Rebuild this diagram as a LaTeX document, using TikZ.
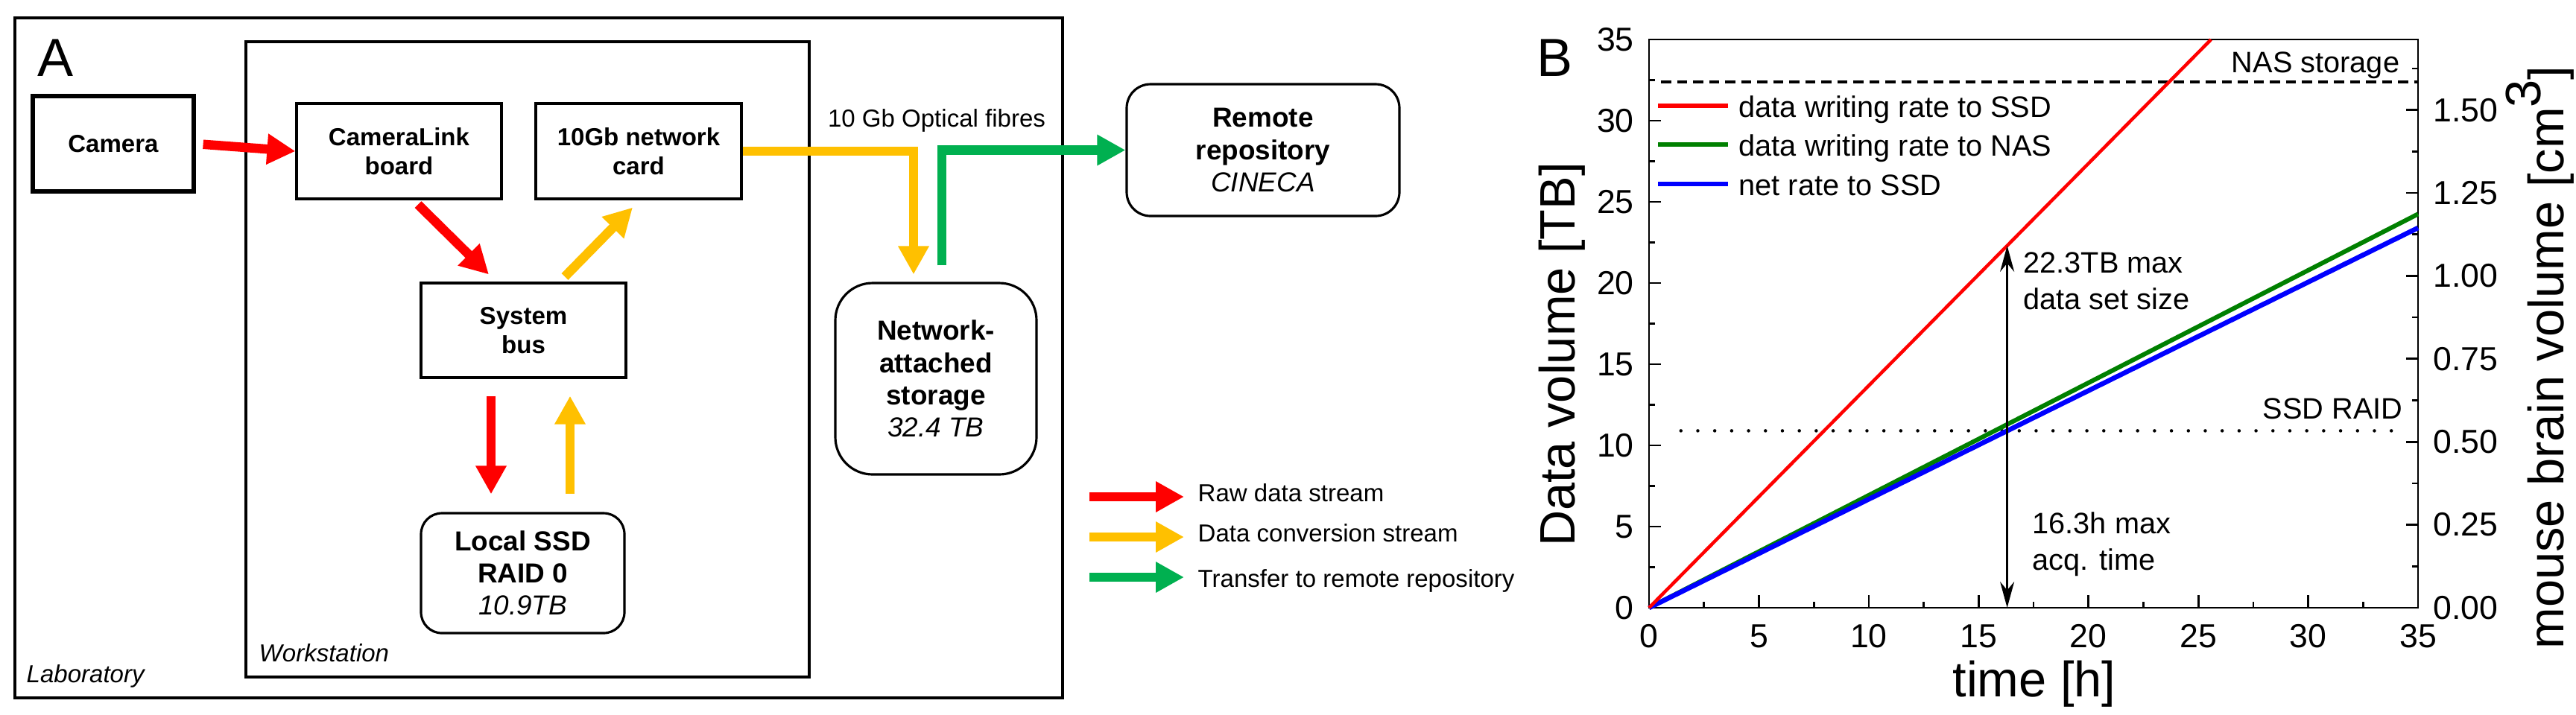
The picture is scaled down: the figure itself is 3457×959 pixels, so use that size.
\documentclass[tikz,border=0pt]{standalone}
\usepackage{fontspec}
\setmainfont{Liberation Sans}
\usetikzlibrary{arrows.meta,calc}
\definecolor{rawred}{RGB}{255,0,0}
\definecolor{convyellow}{RGB}{255,192,0}
\definecolor{xfergreen}{RGB}{0,176,80}
\definecolor{plotgreen}{RGB}{0,128,0}
\definecolor{plotblue}{RGB}{0,0,255}
\newcommand{\capnote}[1]{{\mdseries\itshape #1}}

\begin{document}
\begin{tikzpicture}[x=0.1mm, y=-0.1mm]
	\tikzstyle{hwbox} = [draw, line width=0.9pt, minimum width=27.5mm, minimum height=12.8mm, align=center, inner sep=0pt, font=\fontsize{9.4pt}{11.1pt}\selectfont\bfseries]
	\tikzstyle{storebox} = [draw, line width=0.9pt, align=center, inner sep=0pt, font=\fontsize{10.5pt}{12.3pt}\selectfont\bfseries]
	\tikzstyle{flow} = [line width=1.25mm, line join=miter, -{Triangle[length=3.8mm, width=3.9mm]}]
	\tikzstyle{plain} = [inner sep=0pt, font=\fontsize{9.4pt}{11pt}\selectfont]
	\tikzstyle{roomtag} = [inner sep=0pt, anchor=west, font=\fontsize{9.4pt}{11pt}\selectfont\itshape]
	\tikzstyle{panel} = [inner sep=0pt, font=\fontsize{20.5pt}{24pt}\selectfont]
	\tikzstyle{axtitle} = [inner sep=0pt, font=\fontsize{19pt}{22pt}\selectfont]
	\useasboundingbox (0,0) rectangle (3457,959);

	% A: acquisition chain
	\node[panel] (pa) at (74.5,77.5) {A};
	\draw[line width=0.9pt] (20,24) rectangle (1426,937);
	\draw[line width=0.9pt] (330,56) rectangle (1086,909);
	\node[roomtag] (labtag) at (35,908) {Laboratory};
	\node[roomtag] (wstag) at (347,877) {Workstation};

	\node[hwbox, line width=1.5pt, minimum width=21.6mm] (camera) at (152,193) {Camera};
	\node[hwbox] (board) at (535.5,203) {CameraLink\\board};
	\node[hwbox, minimum width=27.6mm] (card) at (857,203) {10Gb network\\card};
	\node[hwbox, minimum height=12.7mm] (bus) at (702.5,443.5) {System\\bus};
	\node[storebox, rounded corners=2.8mm, minimum width=27.3mm, minimum height=16.1mm] (ssd) at (701.5,769.5) {Local SSD\\RAID 0\\\capnote{10.9TB}};
	\node[storebox, rounded corners=5mm, minimum width=27mm, minimum height=25.7mm] (nas) at (1256,508.5) {Network-\\attached\\storage\\\capnote{32.4 TB}};
	\node[storebox, rounded corners=3.2mm, minimum width=36.6mm, minimum height=17.7mm] (remote) at (1695,201.5) {Remote\\repository\\\capnote{CINECA}};
	\node[plain] (fibre) at (1257,162) {10 Gb Optical fibres};

	\draw[flow, rawred, shorten <=1mm] (camera.east) -- (board.west);
	\draw[flow, rawred] ($(board.south)+(25.5,6)$) -- ($(bus.north)+(-46.5,-10)$);
	\draw[flow, convyellow] ($(bus.north)+(55.5,-7)$) -- ($(card.south)+(-8,10)$);
	\draw[flow, rawred] ($(bus.south)+(-43.5,23)$) -- ($(ssd.north)+(-42.5,-24)$);
	\draw[flow, convyellow] ($(ssd.north)+(63.5,-24)$) -- ($(bus.south)+(62.5,23)$);
	\draw[flow, convyellow] (card.east) -| ($(nas.north)+(-30,-10)$);
	\draw[flow, xfergreen] ($(nas.north)+(8,-22)$) |- (remote.west);

	\node[plain, anchor=west] (lraw) at (1607,662) {Raw data stream};
	\node[plain, anchor=west] (lconv) at (1607,716) {Data conversion stream};
	\node[plain, anchor=west] (lxfer) at (1607,780) {Transfer to remote repository};
	\coordinate (lraw0) at (1462,667);
	\coordinate (lconv0) at (1462,721);
	\coordinate (lxfer0) at (1462,775);
	\draw[flow, rawred, shorten >=1.8mm] (lraw0) -- (lraw0 -| lraw.west);
	\draw[flow, convyellow, shorten >=1.8mm] (lconv0) -- (lconv0 -| lconv.west);
	\draw[flow, xfergreen, shorten >=1.8mm] (lxfer0) -- (lxfer0 -| lxfer.west);

	% B: data volume against time
	\node[panel] (pb) at (2087,78) {B};
	\node[axtitle, anchor=base] (xtitle) at (2730,935) {time [h]};
	\node[axtitle, rotate=90, anchor=base] (ytitle) at (2113,476) {Data volume [TB]};
	\node[axtitle, rotate=90, anchor=base] (y2title) at (3440,480) {mouse brain volume [cm\raisebox{0.45em}{3}]};

	\begin{scope}[shift={(2213,816)}, x=2.9486mm, y=2.18mm]
		\tikzstyle{ticklab} = [inner sep=0pt, font=\fontsize{12.7pt}{14pt}\selectfont]
		\tikzstyle{plotnote} = [inner sep=0pt, align=left, font=\fontsize{11.3pt}{14pt}\selectfont]
		\tikzstyle{frame} = [line width=0.27mm]
		\draw[frame] (0,0) rectangle (35,35);
		\foreach \t in {0,5,...,35} {
			\draw[frame] (\t,0) -- ++(0,1.7mm);
			\node[ticklab] (xl\t) at ([yshift=-3.8mm]\t,0) {\t};
			\draw[frame] (0,\t) -- ++(1.6mm,0);
			\node[ticklab, anchor=east] (yl\t) at ([xshift=-1.95mm]0,\t) {\t};
		}
		\foreach \t in {2.5,7.5,...,32.5} {
			\draw[frame] (\t,0) -- ++(0,0.8mm);
			\draw[frame] (0,\t) -- ++(0.8mm,0);
		}
		\foreach \lab [count=\i from 0] in {0.00,0.25,0.50,0.75,1.00,1.25,1.50} {
			\draw[frame] (35,\i*5.11) -- ++(-1.6mm,0);
			\draw[frame] (35,{(\i+0.5)*5.11}) -- ++(-0.8mm,0);
			\node[ticklab, anchor=west] (yr\i) at ([xshift=2mm]35,\i*5.11) {\lab};
		}

		\draw[line width=0.4mm, dash pattern=on 1.35mm off 0.8mm] (0.55,32.4) -- (35,32.4);
		\draw[line width=0.45mm, line cap=round, dash pattern=on 0mm off 2.27mm] (1.45,10.9) -- (34.5,10.9);
		\node[plotnote, anchor=base east] (nasnote) at (34.18,32.98) {NAS storage};
		\node[plotnote, anchor=base east] (ssdnote) at (34.32,11.65) {SSD RAID};

		\draw[plotgreen, line width=0.6mm] (0,0) -- (35,24.25);
		\draw[plotblue, line width=0.65mm] (0,0) -- (35,23.4);
		\draw[rawred, line width=0.45mm] (0,0) -- (25.58,35);

		\draw[rawred, line width=0.6mm] (0.41,30.92) -- (3.59,30.92);
		\draw[plotgreen, line width=0.6mm] (0.41,28.53) -- (3.59,28.53);
		\draw[plotblue, line width=0.6mm] (0.41,26.1) -- (3.59,26.1);
		\node[plotnote, anchor=base west] (lssd) at (4.07,30.23) {data writing rate to SSD};
		\node[plotnote, anchor=base west] (lnas) at (4.07,27.84) {data writing rate to NAS};
		\node[plotnote, anchor=base west] (lnet) at (4.07,25.41) {net rate to SSD};

		\coordinate (tmax) at (16.3,0);
		\coordinate (vmax) at (16.3,22.3);
		\draw[line width=0.3mm, {Stealth[length=3.5mm, width=1.9mm]}-{Stealth[length=3.5mm, width=1.9mm]}] (tmax) -- (vmax);
		\node[plotnote, anchor=west] (maxsize) at (17.02,20.11) {22.3TB max\\data set size};
		\node[plotnote, anchor=west] (maxtime) at (17.43,3.9) {16.3h max\\acq. time};
	\end{scope}
\end{tikzpicture}
\end{document}
